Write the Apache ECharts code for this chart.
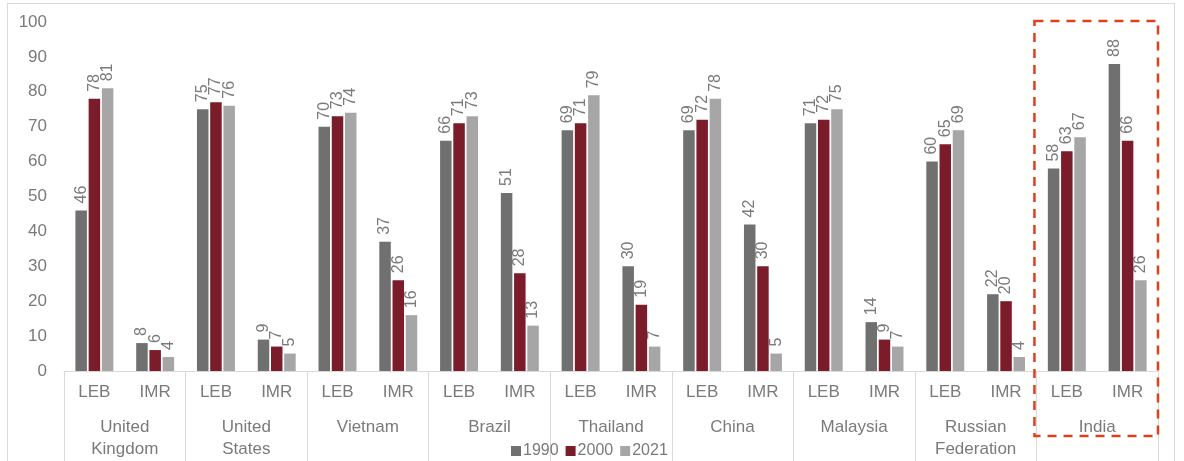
<!DOCTYPE html>
<html>
<head>
<meta charset="utf-8">
<script src="https://cdn.jsdelivr.net/npm/echarts@6/dist/echarts.min.js"></script>
<style>
html,body{margin:0;padding:0;background:#fff;}
#frame{position:absolute;left:7px;top:3px;width:1168px;height:470px;border:1px solid #d9d9d9;box-sizing:border-box;pointer-events:none;}
#chart{position:absolute;left:0;top:0;width:1184px;height:461px;}
</style>
</head>
<body>
<div id="chart"></div>
<div id="frame"></div>
<script>
const countries = ['United\nKingdom','United\nStates','Vietnam','Brazil','Thailand','China','Malaysia','Russian\nFederation','India'];
const metrics = ['LEB','IMR'];
const categories = [];
countries.forEach(c => metrics.forEach(m => categories.push(m)));
const seriesNames = ['1990','2000','2021'];
const v1990 = [46,8, 75,9, 70,37, 66,51, 69,30, 69,42, 71,14, 60,22, 58,88];
const v2000 = [78,6, 77,7, 73,26, 71,28, 71,19, 72,30, 72,9, 65,20, 63,66];
const v2021 = [81,4, 76,5, 74,16, 73,13, 79,7, 78,5, 75,7, 69,4, 67,26];
const yTicks = [0,10,20,30,40,50,60,70,80,90,100];
const colors = ['#707070','#7B1C2A','#A6A6A6'];

const font = 'Liberation Sans, Arial, sans-serif';
const txt = '#7a7a7a';
const chart = echarts.init(document.getElementById('chart'));
const mk = (name, data, color) => ({
  name, type:'bar', data, barWidth:11.5, barGap:'15%',
  itemStyle:{color},
  label:{show:true, position:'top', rotate:90, align:'left', verticalAlign:'middle', distance:7,
    color:txt, fontSize:16, fontFamily:font}
});
chart.setOption({
  animation:false,
  textStyle:{fontFamily:font},
  grid:{left:64, right:26, top:22, bottom:90},
  legend:{data:seriesNames, left:506, bottom:-3, itemWidth:10, itemHeight:10, itemGap:7,
    icon:'rect', textStyle:{color:txt, fontSize:16, fontFamily:font, padding:[0,0,0,-3]}},
  xAxis:[
    {type:'category', data:categories, position:'bottom',
      axisLine:{show:true, lineStyle:{color:'#d9d9d9', width:1}},
      axisTick:{show:false},
      axisLabel:{color:txt, fontSize:17, fontFamily:font, margin:13}},
    {type:'category', data:countries, position:'bottom', offset:0,
      axisLine:{show:false},
      axisTick:{show:true, length:92, lineStyle:{color:'#d9d9d9', width:1}},
      axisLabel:{color:txt, fontSize:17, fontFamily:font, margin:45, lineHeight:22, interval:0}}
  ],
  yAxis:{type:'value', min:yTicks[0], max:yTicks[yTicks.length-1], interval:10,
    axisLine:{show:false}, axisTick:{show:false}, splitLine:{show:false},
    axisLabel:{color:txt, fontSize:17, fontFamily:font, margin:17}},
  series:[mk(seriesNames[0], v1990, colors[0]), mk(seriesNames[1], v2000, colors[1]), mk(seriesNames[2], v2021, colors[2])]
});
// dashed highlight around India group
const n = categories.length;
const pL = chart.convertToPixel({xAxisIndex:0}, n-2);
const pR = chart.convertToPixel({xAxisIndex:0}, n-1);
const half = (pR - pL)/2;
const yTop = chart.convertToPixel({yAxisIndex:0}, 100);
const x0 = pL - half - 2, x1 = pR + half;
chart.setOption({graphic:[{type:'rect', shape:{x:x0, y:yTop-1, width:x1-x0, height:436-(yTop-1)},
  style:{fill:'none', stroke:'#E0401C', lineWidth:2.5, lineDash:[9,7]}, z:100}]});
</script>
</body>
</html>
